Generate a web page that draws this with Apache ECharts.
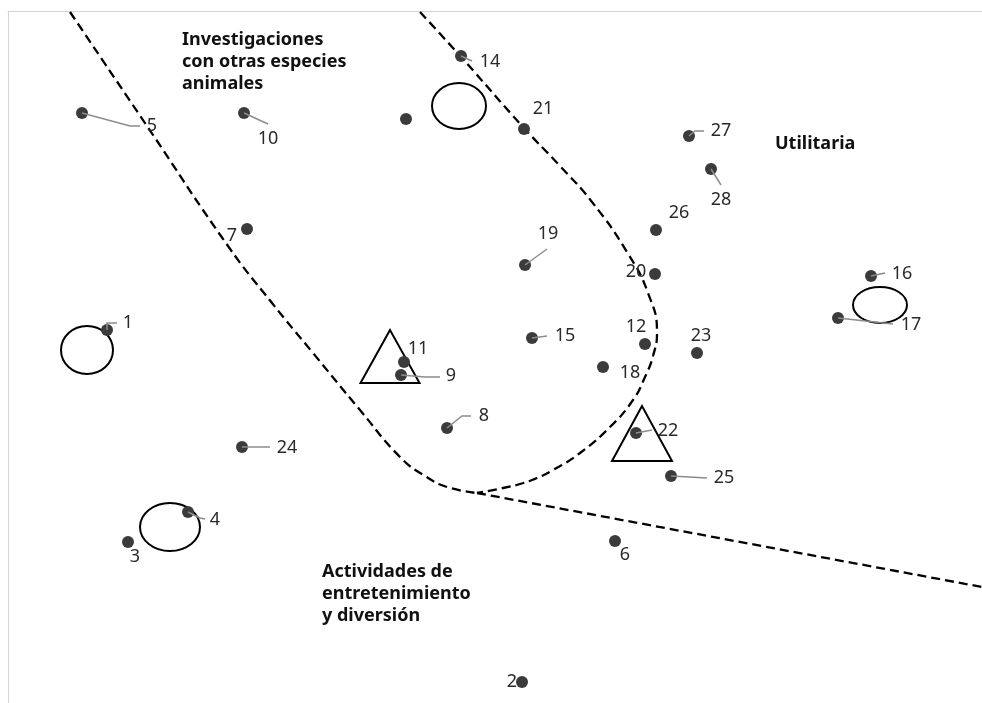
<!DOCTYPE html>
<html>
<head>
<meta charset="utf-8">
<script src="https://cdn.jsdelivr.net/npm/echarts@6/dist/echarts.min.js"></script>
<style>
  html, body { margin: 0; padding: 0; background: #fff; }
  #chart { width: 982px; height: 703px; }
</style>
</head>
<body>
<div id="chart"></div>
<script>
// point ids
var ids = ['1','2','3','4','5','6','7','8','9','10','11','12','','14','15','16','17','18','19','20','21','22','23','24','25','26','27','28'];
var dimX = [107,522,128,188,82,615,247,447,401,244,404,645,406,461,532,871,838,603,525,655,524,636,697,242,671,656,689,711];
var dimY = [330,682,542,512,113,541,229,428,375,113,362,344,119,56,338,276,318,367,265,274,129,433,353,447,476,230,136,169];

// label offsets from the dot (px)
var labelDx = [21,-10,7,27,70,10,-15,37,50,24,14,-9,0,29,33,31,73,27,23,-19,19,32,4,45,53,23,32,10];
var labelDy = [-7,0,15,8,13,14,7,-12,1,26,-13,-17,0,6,-2,-2,7,6,-31,-2,-20,-2,-17,1,2,-17,-5,31];

// leader lines: point index -> bend points
var leaders = [
  [0, [[107,323],[117,323]]],
  [3, [[200,518],[205,519]]],
  [4, [[130,126],[140,126]]],
  [7, [[462,416],[471,416]]],
  [8, [[425,377],[440,377]]],
  [9, [[268,124]]],
  [13, [[472,61]]],
  [14, [[547,336]]],
  [15, [[885,273]]],
  [16, [[893,324]]],
  [18, [[547,249]]],
  [21, [[652,430]]],
  [23, [[270,447]]],
  [24, [[707,478]]],
  [26, [[695,131],[704,131]]],
  [27, [[721,185]]]
];

// boundary curves
var curveLeft = [[70,12],[147,126],[228,246],[272,303],[313,353],[360,410],[400,457],[425,476],[447,487],[477,493]];
var curveRight = [[420,12],[462,58],[523,127],[560,166],[592,202],[627,252],[648,293],[657,333],[653,356],[645,377],[633,400],[610,427],[580,453],[553,470],[537,478],[520,484],[503,488],[477,493]];
var curveBottom = [[477,493],[982,587]];

// ellipses: cx, cy, rx, ry
var ellipses = [[87,350,26,24],[170,527,30,24],[459,106,27,23],[880,305,27,18]];
// triangles: apex x, apex y, base y, half width
var triangles = [[390,330,383,29.5],[642,406,461,30]];

// group names
var zoneNames = ['Investigaciones\ncon otras especies\nanimales', 'Utilitaria', 'Actividades de\nentretenimiento\ny diversión'];
var zoneX = [182, 775, 322];
var zoneY = [29, 133, 561];

var points = ids.map(function (id, i) {
  return {
    name: id,
    value: [dimX[i], dimY[i]],
    label: { offset: [labelDx[i], labelDy[i]] }
  };
});

function dashed(data) {
  return {
    type: 'line',
    data: data,
    smooth: 0.5,
    symbol: 'none',
    silent: true,
    z: 1,
    lineStyle: { color: '#000', width: 2.3, type: [9, 5] }
  };
}

var chart = echarts.init(document.getElementById('chart'));
chart.setOption({
  animation: false,
  backgroundColor: '#fff',
  grid: { left: 8, top: 11, right: 0, bottom: 0 },
  xAxis: {
    type: 'value', min: 8, max: 982, position: 'top',
    axisLine: { show: true, onZero: false, lineStyle: { color: '#d4d4d4', width: 1 } },
    axisTick: { show: false }, axisLabel: { show: false }, splitLine: { show: false }
  },
  yAxis: {
    type: 'value', min: 11, max: 703, inverse: true,
    axisLine: { show: true, onZero: false, lineStyle: { color: '#d4d4d4', width: 1 } },
    axisTick: { show: false }, axisLabel: { show: false }, splitLine: { show: false }
  },
  series: [
    dashed(curveLeft),
    dashed(curveRight),
    Object.assign(dashed(curveBottom), { smooth: false }),
    {
      type: 'custom',
      z: 2,
      silent: true,
      data: ellipses,
      renderItem: function (params, api) {
        var e = ellipses[params.dataIndex];
        var c = api.coord([e[0], e[1]]);
        var s = api.size([e[2], e[3]]);
        return {
          type: 'ellipse',
          shape: { cx: c[0], cy: c[1], rx: s[0], ry: s[1] },
          style: { fill: 'none', stroke: '#000', lineWidth: 2 }
        };
      }
    },
    {
      type: 'custom',
      z: 2,
      silent: true,
      data: triangles,
      renderItem: function (params, api) {
        var t = triangles[params.dataIndex];
        var a = api.coord([t[0], t[1]]);
        var l = api.coord([t[0] - t[3], t[2]]);
        var r = api.coord([t[0] + t[3], t[2]]);
        return {
          type: 'polygon',
          shape: { points: [a, l, r] },
          style: { fill: 'none', stroke: '#000', lineWidth: 2 }
        };
      }
    },
    {
      type: 'scatter',
      z: 3,
      symbolSize: 12,
      itemStyle: { color: '#3b3b3b', opacity: 1 },
      label: {
        show: true,
        position: 'inside',
        formatter: '{b}',
        color: '#2a2a2a',
        fontSize: 18,
        fontFamily: 'Noto Sans'
      },
      data: points
    },
    {
      type: 'custom',
      z: 4,
      silent: true,
      data: leaders.map(function (l) { return l[0]; }),
      renderItem: function (params, api) {
        var l = leaders[params.dataIndex];
        var i = l[0];
        var pts = [api.coord([dimX[i], dimY[i]])].concat(l[1].map(function (p) { return api.coord(p); }));
        return {
          type: 'polyline',
          shape: { points: pts, smooth: 0 },
          style: { fill: 'none', stroke: '#8c8c8c', lineWidth: 1.5 }
        };
      }
    },
    {
      type: 'custom',
      z: 5,
      silent: true,
      data: zoneNames,
      renderItem: function (params, api) {
        var i = params.dataIndex;
        var p = api.coord([zoneX[i], zoneY[i]]);
        return {
          type: 'text',
          x: p[0], y: p[1],
          style: {
            text: zoneNames[i],
            fill: '#111',
            font: 'bold 18px "Noto Sans"',
            lineHeight: 22,
            align: 'left',
            verticalAlign: 'top'
          }
        };
      }
    }
  ]
});
</script>
</body>
</html>
